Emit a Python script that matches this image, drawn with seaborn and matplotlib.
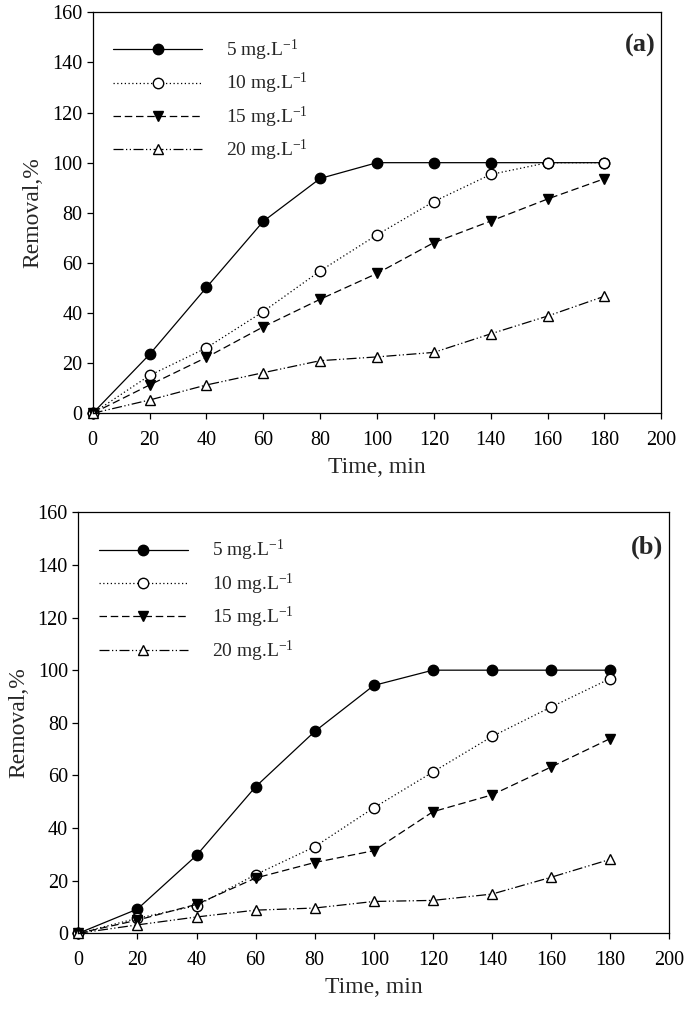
import pandas as pd
import matplotlib
matplotlib.use("Agg")
import matplotlib.pyplot as plt
import seaborn as sns

# Time points (min)
time = [0, 20, 40, 60, 80, 100, 120, 140, 160, 180]

# Panel (a) removal, %
a_5 = [0, 23.5, 50.2, 76.6, 93.7, 100, 100, 100, 100, 100]
a_10 = [0, 15.1, 26.1, 40.6, 56.8, 71.2, 84.5, 95.3, 100, 100]
a_15 = [0, 11.3, 22.3, 34.5, 45.5, 55.8, 68.1, 76.7, 85.5, 93.6]
a_20 = [0, 5.3, 11.3, 16.2, 21.0, 22.5, 24.3, 31.7, 38.8, 46.7]

# Panel (b) removal, %
b_5 = [0, 9.2, 29.6, 55.7, 76.7, 94.2, 100, 100, 100, 100]
b_10 = [0, 5.7, 10.5, 22.3, 32.9, 47.7, 61.3, 74.8, 86.0, 96.8]
b_15 = [0, 5.0, 11.0, 21.0, 26.9, 31.4, 46.2, 52.6, 63.2, 74.0]
b_20 = [0, 3.2, 6.2, 8.8, 9.6, 12.1, 12.5, 14.9, 21.3, 28.1]

labels = ["5 mg.L$^{-1}$", "10 mg.L$^{-1}$", "15 mg.L$^{-1}$", "20 mg.L$^{-1}$"]

sns.set_style("ticks")
plt.rcParams["font.family"] = ["Liberation Serif", "DejaVu Serif"]
plt.rcParams["mathtext.fontset"] = "custom"
plt.rcParams["mathtext.rm"] = "Liberation Serif"
plt.rcParams["mathtext.default"] = "regular"

# line / marker style for each concentration
styles = [
    dict(marker="o", markerfacecolor="black", linestyle="-"),
    dict(marker="o", markerfacecolor="white", linestyle=(0, (1, 2))),
    dict(marker="v", markerfacecolor="black", linestyle=(0, (6, 3))),
    dict(marker="^", markerfacecolor="white", linestyle=(0, (8, 2, 1, 2, 1, 2))),
]

fig = plt.figure(figsize=(6.85, 10.09), dpi=100)
W, H = 685, 1009
ax_a = fig.add_axes([92.7 / W, 1 - 413.3 / H, (661.3 - 92.7) / W, (413.3 - 12.3) / H])
ax_b = fig.add_axes([78.3 / W, 1 - 933.3 / H, (669.3 - 78.3) / W, (933.3 - 512.3) / H])


def draw_panel(ax, series, tag):
    for vals, lab, st in zip(series, labels, styles):
        df = pd.DataFrame({"Time": time, "Removal": vals})
        sns.lineplot(data=df, x="Time", y="Removal", ax=ax, color="black",
                     linewidth=0.9, markersize=7.5, markeredgecolor="black",
                     markeredgewidth=1.0, label=lab, clip_on=False, **st)
    ax.set_xlim(0, 200)
    ax.set_ylim(0, 160)
    ax.set_xticks(range(0, 201, 20))
    ax.set_yticks(range(0, 161, 20))
    ax.tick_params(axis="both", labelsize=14.5, length=4, width=0.9, direction="out",
                   colors="black")
    ax.tick_params(axis="x", pad=9)
    for s in ax.spines.values():
        s.set_linewidth(0.9)
        s.set_color("black")
    ax.set_xlabel("Time, min", fontsize=17, labelpad=5)
    ax.set_ylabel("Removal,%", fontsize=17, labelpad=6)
    ax.text(0.99, 0.918, tag, transform=ax.transAxes, ha="right", va="center",
            fontsize=19, fontweight="bold")
    ax.legend(loc="upper left", bbox_to_anchor=(0.005, 0.98), frameon=False,
              fontsize=14, handlelength=4.6, handletextpad=1.2, labelspacing=0.42)


draw_panel(ax_a, [a_5, a_10, a_15, a_20], "(a)")
draw_panel(ax_b, [b_5, b_10, b_15, b_20], "(b)")

plt.savefig("out.png", dpi=100)
plt.close()
